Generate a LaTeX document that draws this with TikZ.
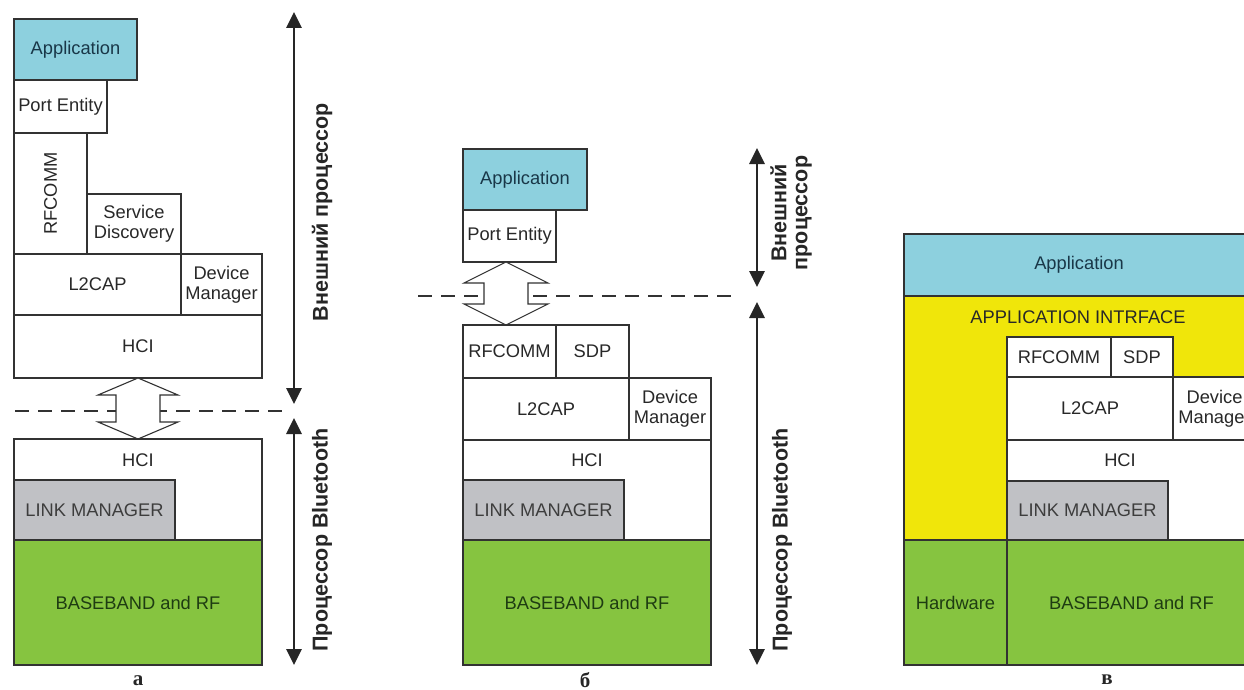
\documentclass[tikz,border=0pt]{standalone}
\usepackage{fontspec}
\setmainfont{Liberation Sans}
\newfontfamily\serifcyr{Liberation Serif}
\usetikzlibrary{arrows.meta}
\definecolor{appcol}{RGB}{141,208,222}
\definecolor{grncol}{RGB}{134,196,64}
\definecolor{grycol}{RGB}{192,193,197}
\definecolor{yelcol}{RGB}{240,230,10}
\definecolor{linecol}{RGB}{50,50,50}
\definecolor{txtcol}{RGB}{40,40,40}
\definecolor{apptxt}{RGB}{25,55,72}
\definecolor{grntxt}{RGB}{30,60,18}
\newcommand\mkbox[7]{%
  \pgfmathsetmacro\bw{#4-#2}\pgfmathsetmacro\bh{#5-#3}%
  \node[box,#6,minimum width=\bw pt,minimum height=\bh pt] (#1) at ({(#2+#4)/2},{(#3+#5)/2}) {#7};}
\newcommand\mkdbl[6]{% cx, ytop, ybot, headlen, headhalf, stemhalf
  \draw[dblarrow] (#1,#2) -- ++(#5,#4) -- ++({-(#5-#6)},0) |- ({#1+#5},{#3-#4}) -- (#1,#3)
     -- ({#1-#5},{#3-#4}) -- ++({#5-#6},0) |- ({#1-#5},{#2+#4}) -- cycle;}
\tikzset{
  box/.style={draw=linecol,line width=1.1pt,fill=white,inner sep=0pt,outer sep=0pt,
    text=txtcol,font=\fontsize{18.3}{20}\selectfont,align=center},
  txt/.style={inner sep=0pt,text=txtcol,font=\fontsize{18.3}{20}\selectfont,align=center},
  app/.style={fill=appcol,text=apptxt},
  grn/.style={fill=grncol,text=grntxt},
  gry/.style={fill=grycol,text=txtcol!90},
  yel/.style={fill=yelcol},
  dashline/.style={draw=linecol,line width=1.2pt,dash pattern=on 14pt off 9pt},
  dblarrow/.style={draw=linecol,line width=1.1pt,fill=white,line join=miter},
  vside/.style={draw=black!85,line width=2.8pt,{Triangle[width=15pt,length=16pt]}-{Triangle[width=15pt,length=16pt]}},
  vlabel/.style={inner sep=0pt,rotate=90,text=black!85,font=\bfseries\fontsize{21.5}{21}\selectfont,align=center},
  sublabel/.style={inner sep=0pt,text=black!85,font=\serifcyr\bfseries\fontsize{21}{23}\selectfont}
}
\begin{document}
\begin{tikzpicture}[x=1pt,y=-1pt]
\clip (0,0) rectangle (1244,690);
\fill[white] (0,0) rectangle (1244,690);
% ---------------- a ----------------
\mkbox{aApp}{14}{19}{137}{80}{app}{Application}
\mkbox{aPort}{14}{80}{107}{133}{}{Port Entity}
\mkbox{aRf}{14}{133}{87}{254}{}{}
\node[txt,rotate=90] (aRfT) at (aRf.center) {RFCOMM};
\mkbox{aSd}{87}{194}{181}{254}{}{Service\\Discovery}
\mkbox{aL2}{14}{254}{181}{315}{}{L2CAP}
\mkbox{aDm}{181}{254}{262}{315}{}{Device\\Manager}
\mkbox{aHci}{14}{315}{262}{378}{}{HCI}
\draw[dashline] (15,411) -- (285,411);
\mkdbl{138}{378}{439}{17}{40}{22}
\mkbox{aHciB}{14}{439}{262}{540}{}{}
\node[txt] (aHciBT) at (138,460) {HCI};
\mkbox{aLm}{14}{480}{175}{540}{gry}{LINK MANAGER}
\mkbox{aBb}{14}{540}{262}{665}{grn}{BASEBAND and RF}
\node[sublabel] (aLab) at (138,681) {а};
\coordinate (aT1) at (294,12); \coordinate (aT2) at (294,404);
\coordinate (aB1) at (294,418); \coordinate (aB2) at (294,665);
\draw[vside] (aT1) -- (aT2);
\draw[vside] (aB1) -- (aB2);
\node[vlabel] (aExt) at (322,212) {Внешний процессор};
\node[vlabel] (aBt) at (322,540) {Процессор Bluetooth};
% ---------------- б ----------------
\mkbox{bApp}{463}{149}{587}{210}{app}{Application}
\mkbox{bPort}{463}{210}{556}{262}{}{Port Entity}
\draw[dashline] (418,296) -- (733,296);
\mkdbl{506}{262}{325}{21}{42}{22}
\mkbox{bRf}{463}{325}{556}{378}{}{RFCOMM}
\mkbox{bSdp}{556}{325}{629}{378}{}{SDP}
\mkbox{bL2}{463}{378}{629}{440}{}{L2CAP}
\mkbox{bDm}{629}{378}{711}{440}{}{Device\\Manager}
\mkbox{bHci}{463}{440}{711}{540}{}{}
\node[txt] (bHciT) at (587,460) {HCI};
\mkbox{bLm}{463}{480}{624}{540}{gry}{LINK MANAGER}
\mkbox{bBb}{463}{540}{711}{665}{grn}{BASEBAND and RF}
\node[sublabel] (bLab) at (585,680) {б};
\coordinate (bT1) at (757,148); \coordinate (bT2) at (757,287);
\coordinate (bB1) at (757,302); \coordinate (bB2) at (757,665);
\draw[vside] (bT1) -- (bT2);
\draw[vside] (bB1) -- (bB2);
\node[vlabel] (bExt) at (791,213) {Внешний\\процессор};
\node[vlabel] (bBt) at (782,540) {Процессор Bluetooth};
% ---------------- в ----------------
\mkbox{cApp}{904}{234}{1254}{296}{app}{Application}
\mkbox{cApi}{904}{296}{1254}{540}{yel}{}
\node[txt] (cApiT) at (1078,317) {APPLICATION INTRFACE};
\mkbox{cRf}{1007}{337}{1111}{377}{}{RFCOMM}
\mkbox{cSdp}{1111}{337}{1173}{377}{}{SDP}
\mkbox{cL2}{1007}{377}{1173}{440}{}{L2CAP}
\mkbox{cDm}{1173}{377}{1256}{440}{}{Device\\Manager}
\mkbox{cHci}{1007}{440}{1256}{540}{}{}
\node[txt] (cHciT) at (1120,460) {HCI};
\mkbox{cLm}{1007}{481}{1168}{540}{gry}{LINK MANAGER}
\mkbox{cHw}{904}{540}{1007}{665}{grn}{Hardware}
\mkbox{cBb}{1007}{540}{1256}{665}{grn}{BASEBAND and RF}
\node[sublabel] (cLab) at (1107,680) {в};
\end{tikzpicture}
\end{document}
